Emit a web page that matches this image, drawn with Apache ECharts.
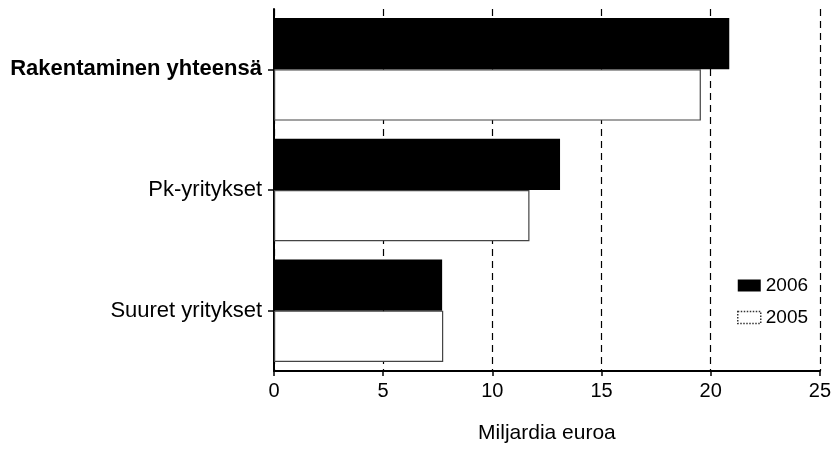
<!DOCTYPE html>
<html><head><meta charset="utf-8">
<script src="https://cdn.jsdelivr.net/npm/echarts@6/dist/echarts.min.js"></script>
<style>html,body{margin:0;padding:0;background:#fff}#c{width:834px;height:449px}</style>
</head><body><div id="c"></div>
<script>
const categories = ['Rakentaminen yhteensä', 'Pk-yritykset', 'Suuret yritykset'];
const values2006 = [20.85, 13.1, 7.7];
const values2005 = [19.55, 11.7, 7.75];
const seriesNames = ['2006', '2005'];
const xTicks = [0, 5, 10, 15, 20, 25];

const chart = echarts.init(document.getElementById('c'));
chart.setOption({
  animation: false,
  textStyle: { fontFamily: 'Liberation Sans, Arial, sans-serif' },
  grid: { left: 274, right: 14, top: 9, bottom: 73 },
  legend: {
    orient: 'vertical', left: 732, top: 271, itemWidth: 23, itemHeight: 12, itemGap: 13,
    textStyle: { fontSize: 19, color: '#000', fontFamily: 'Liberation Sans' },
    data: [
      { name: seriesNames[0], icon: 'rect', itemStyle: { color: '#000', borderWidth: 0 } },
      { name: seriesNames[1], icon: 'rect', itemStyle: { color: '#fff', borderColor: '#333', borderWidth: 1.5, borderType: 'dotted' } }
    ]
  },
  xAxis: {
    type: 'value', min: xTicks[0], max: xTicks[xTicks.length - 1], interval: 5,
    name: 'Miljardia euroa', nameLocation: 'middle', nameGap: 52,
    nameTextStyle: { fontSize: 21, color: '#000', fontFamily: 'Liberation Sans' },
    axisLine: { show: true, lineStyle: { color: '#000', width: 2 } },
    axisTick: { show: true, length: 5, inside: false, lineStyle: { color: '#000', width: 1.5 } },
    axisLabel: { fontSize: 20, color: '#000', margin: 10, fontFamily: 'Liberation Sans' },
    splitLine: { show: true, lineStyle: { color: '#000', type: [7, 5], width: 1.2 } }
  },
  yAxis: {
    type: 'category', data: categories, inverse: true,
    axisLine: { show: true, lineStyle: { color: '#000', width: 2 } },
    axisTick: { show: true, alignWithLabel: true, length: 6, lineStyle: { color: '#000', width: 1.5 } },
    axisLabel: {
      fontSize: 22, color: '#000', margin: 12, fontFamily: 'Liberation Sans',
      formatter: function (v, i) { return i === 0 ? '{b|' + v + '}' : v; },
      rich: { b: { fontWeight: 'bold', fontSize: 22, color: '#000', fontFamily: 'Liberation Sans' } }
    }
  },
  series: [
    { name: seriesNames[0], type: 'bar', data: values2006, barGap: '0%', barCategoryGap: '15%',
      itemStyle: { color: '#000' } },
    { name: seriesNames[1], type: 'bar', data: values2005, barGap: '0%', barCategoryGap: '15%',
      itemStyle: { color: '#fff', borderColor: '#444', borderWidth: 1.2 } }
  ]
});
</script></body></html>
